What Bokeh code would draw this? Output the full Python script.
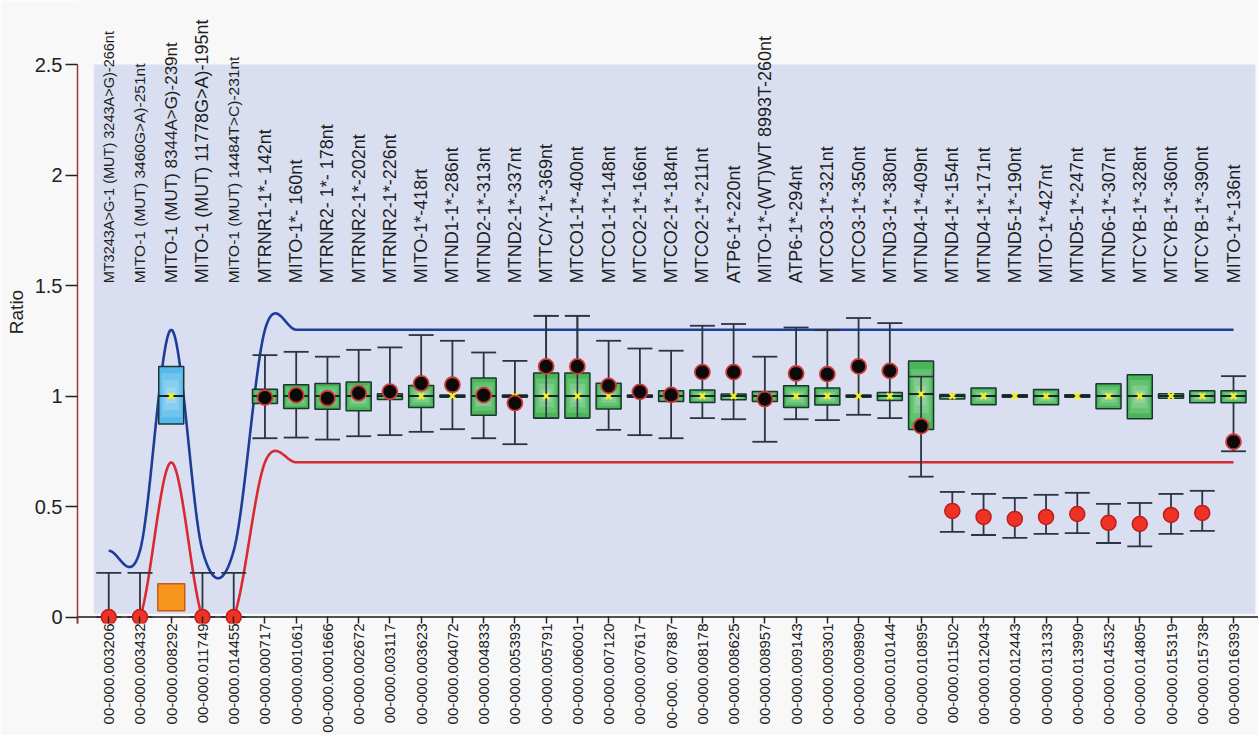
import numpy as np
from bokeh.plotting import figure
from bokeh.models import (ColumnDataSource, BoxAnnotation, Span, FixedTicker,
                          NumeralTickFormatter, Range1d)
from bokeh.core.properties import value, field
from bokeh.embed import file_html
from bokeh.resources import INLINE

# ---------------- data ----------------
probe_names = [
    "MT3243A>G-1 (MUT) 3243A>G)-266nt", "MITO-1 (MUT) 3460G>A)-251nt",
    "MITO-1 (MUT) 8344A>G)-239nt", "MITO-1 (MUT) 11778G>A)-195nt",
    "MITO-1 (MUT) 14484T>C)-231nt", "MTRNR1-1*- 142nt", "MITO-1*- 160nt",
    "MTRNR2- 1*- 178nt", "MTRNR2-1*-202nt", "MTRNR2-1*-226nt", "MITO-1*-418rt",
    "MTND1-1*-286nt", "MTND2-1*-313nt", "MTND2-1*-337nt", "MTTC/Y-1*-369nt",
    "MTCO1-1*-400nt", "MTCO1-1*-148nt", "MTCO2-1*-166nt", "MTCO2-1*-184nt",
    "MTCO2-1*-211nt", "ATP6-1*-220nt", "MITO-1*-(WT)WT 8993T-260nt",
    "ATP6-1*-294nt", "MTCO3-1*-321nt", "MTCO3-1*-350nt", "MTND3-1*-380nt",
    "MTND4-1*-409nt", "MTND4-1*-154nt", "MTND4-1*-171nt", "MTND5-1*-190nt",
    "MITO-1*-427nt", "MTND5-1*-247nt", "MTND6-1*-307nt", "MTCYB-1*-328nt",
    "MTCYB-1*-360nt", "MTCYB-1*-390nt", "MITO-1*-136nt",
]
probe_ids = [
    "00-000.003206", "00-000.003432", "00-000.008292", "00-000.011749",
    "00-000.014455", "00-000.000717", "00-000.001061", "00-000.0001666",
    "00-000.002672", "00-000.003117", "00-000.003623", "00-000.004072",
    "00-000.004833", "00-000.005393", "00-000.005791", "00-000.006001",
    "00-000.007120", "00-000.007617", "00-000. 007887", "00-000.008178",
    "00-000.008625", "00-000.008957", "00-000.009143", "00-000.009301",
    "00-000.009890", "00-000.010144", "00-000.010895", "00-000.011502",
    "00-000.012043", "00-000.012443", "00-000.013133", "00-000.013990",
    "00-000.014532", "00-000.014805", "00-000.015319", "00-000.015738",
    "00-000.016393",
]
box_low = [None, None, 0.873, None, None, 0.966, 0.943, 0.940, 0.933, 0.984,
           0.948, 0.995, 0.913, 0.995, 0.900, 0.900, 0.941, 0.995, 0.975,
           0.971, 0.983, 0.975, 0.948, 0.959, 0.995, 0.980, 0.848, 0.987,
           0.960, 0.994, 0.960, 0.994, 0.942, 0.897, 0.990, 0.970, 0.970]
box_high = [None, None, 1.134, None, None, 1.031, 1.051, 1.057, 1.063, 1.010,
            1.048, 1.005, 1.082, 1.005, 1.104, 1.104, 1.058, 1.005, 1.024,
            1.027, 1.009, 1.020, 1.046, 1.036, 1.005, 1.016, 1.158, 1.007,
            1.036, 1.006, 1.030, 1.006, 1.055, 1.096, 1.010, 1.024, 1.024]
median = [None, None, 1.0, None, None] + [1.0] * 21 + [1.009] + [1.0] * 10
whisker_low = [0, 0, None, 0, 0, 0.809, 0.812, 0.803, 0.818, 0.823, 0.838,
               0.850, 0.809, 0.782, 0.900, 0.900, 0.847, 0.823, 0.809, 0.900,
               0.895, 0.793, 0.895, 0.891, 0.915, 0.900, 0.635, 0.385, 0.371,
               0.358, 0.376, 0.380, 0.335, 0.320, 0.376, 0.390, 0.750]
whisker_high = [0.2, 0.2, None, 0.2, 0.2, 1.185, 1.200, 1.178, 1.209, 1.220,
                1.276, 1.250, 1.197, 1.159, 1.363, 1.363, 1.250, 1.215, 1.205,
                1.318, 1.326, 1.178, 1.310, 1.298, 1.353, 1.330, 1.088, 0.566,
                0.557, 0.539, 0.553, 0.562, 0.512, 0.516, 0.557, 0.571, 1.090]
sample_ratio = [0, 0, None, 0, 0, 0.993, 1.004, 0.990, 1.013, 1.020, 1.057,
                1.051, 1.004, 0.968, 1.134, 1.134, 1.046, 1.019, 1.005, 1.108,
                1.108, 0.986, 1.102, 1.099, 1.134, 1.114, 0.864, 0.480, 0.453,
                0.444, 0.453, 0.466, 0.426, 0.421, 0.462, 0.471, 0.793]
mutant_index = [2]
mutant_ratio = [0.089]
upper_limit = [0.3, 0.3, 1.3, 0.3, 0.3] + [1.3] * 32
lower_limit = [0.0, 0.0, 0.7, 0.0, 0.0] + [0.7] * 32

# ---------------- styles ----------------
FONT = "Liberation Sans"
label_font_px = [14.5, 15.5, 17, 18, 15.5] + [18] * 32
whiskers_on_top = [14, 15, 26]
BOX_W = 0.8
LABEL_BASE = 1.51

n = len(probe_names)
xs = np.arange(n, dtype=float)


def arr(v):
    return np.array([np.nan if a is None else a for a in v], dtype=float)


bl, bh, md = arr(box_low), arr(box_high), arr(median)
wl, wh, sr = arr(whisker_low), arr(whisker_high), arr(sample_ratio)
up, lo = arr(upper_limit), arr(lower_limit)


def smooth_path(vals, start=0, steps=24):
    """Render path of a Catmull-Rom curve passing through the given nodes."""
    v = np.asarray(vals, float)
    tg = np.gradient(v)
    t = np.linspace(0, 1, steps, endpoint=False)
    h00 = 2 * t**3 - 3 * t**2 + 1
    h10 = t**3 - 2 * t**2 + t
    h01 = -2 * t**3 + 3 * t**2
    h11 = t**3 - t**2
    px, py = [], []
    for k in range(start, len(v) - 1):
        px.extend(k + t)
        py.extend(h00 * v[k] + h10 * tg[k] + h01 * v[k + 1] + h11 * tg[k + 1])
    px.append(len(v) - 1)
    py.append(v[-1])
    return px, py


BG = "#f8f8f9"
p = figure(width=1258, height=735, output_backend="svg", toolbar_location=None,
           x_range=Range1d(-1, 36.8), y_range=Range1d(-0.0294, 2.7899),
           min_border_left=77, min_border_right=0, min_border_top=0,
           min_border_bottom=0, background_fill_color=BG,
           border_fill_color=BG, outline_line_color=None)
p.grid.visible = False

# plot area background
p.add_layout(BoxAnnotation(left=-0.48, right=36.7, bottom=0.015, top=2.5,
                           fill_color="#d9dff1", fill_alpha=1, line_alpha=0,
                           level="underlay"))
p.add_layout(Span(location=0, dimension="width", line_color="#1a1a1a",
                  line_width=1.6, level="underlay"))

# threshold curves
ux, uy = smooth_path(up)
p.line(ux, uy, line_color="#1d3d98", line_width=2.6)
lx, ly = smooth_path(lo, start=1)
p.line(lx, ly, line_color="#d82a30", line_width=2.6)

# mask below axis
p.quad(left=[-1], right=[36.8], bottom=[-0.05], top=[-0.004],
       fill_color=BG, line_alpha=0)

# whiskers
wmask = ~np.isnan(wl)
wsrc = ColumnDataSource(dict(x=xs[wmask], lo=wl[wmask], hi=wh[wmask],
                             l=xs[wmask] - BOX_W / 2, r=xs[wmask] + BOX_W / 2))
WC = "#2b3440"
p.segment(x0="x", y0="lo", x1="x", y1="hi", source=wsrc, line_color=WC, line_width=1.8)
p.segment(x0="l", y0="hi", x1="r", y1="hi", source=wsrc, line_color=WC, line_width=1.8)
p.segment(x0="l", y0="lo", x1="r", y1="lo", source=wsrc, line_color=WC, line_width=1.8)

# boxes
bmask = ~np.isnan(bl)
colors = ["#55b9ea" if i in mutant_index else "#48b657" for i in range(n)]
bx = xs[bmask]
bb, bt = bl[bmask], bh[bmask]
bsrc = ColumnDataSource(dict(l=bx - BOX_W / 2, r=bx + BOX_W / 2, b=bb, t=bt,
                             m=md[bmask], x=bx,
                             c=[colors[i] for i in range(n) if bmask[i]]))
p.quad(left="l", right="r", bottom="b", top="t", source=bsrc, fill_color="c",
       line_alpha=0)
# soft inner glow (nested translucent layers)
for f in (0.12, 0.24, 0.36):
    hgt = bt - bb
    p.quad(left=bx - BOX_W / 2 + f * BOX_W * 0.8, right=bx + BOX_W / 2 - f * BOX_W * 0.8,
           bottom=bb + f * hgt, top=bt - f * hgt, fill_color="white",
           fill_alpha=0.16, line_alpha=0)
p.quad(left="l", right="r", bottom="b", top="t", source=bsrc, fill_alpha=0,
       line_color="#1d3530", line_width=1.5)
p.segment(x0="l", y0="m", x1="r", y1="m", source=bsrc, line_color="#16252a", line_width=2)

# whiskers drawn over boxes
tsrc = ColumnDataSource(dict(x=xs[whiskers_on_top],
                             lo=np.maximum(wl[whiskers_on_top], bl[whiskers_on_top]),
                             hi=wh[whiskers_on_top],
                             l=xs[whiskers_on_top] - BOX_W / 2,
                             r=xs[whiskers_on_top] + BOX_W / 2))
p.segment(x0="x", y0="lo", x1="x", y1="hi", source=tsrc, line_color=WC, line_width=1.6)
p.segment(x0="l", y0="hi", x1="r", y1="hi", source=tsrc, line_color=WC, line_width=1.6)

# yellow centre marks
p.scatter(x="x", y="m", source=bsrc, marker="x", size=8, line_color="#f2ee2c", line_width=2.5)

# samples
smask = ~np.isnan(sr)
is_red = smask & (sr <= lo)
is_black = smask & ~is_red
p.scatter(x=xs[is_black], y=sr[is_black], marker="circle", size=15,
          fill_color="#0a0a0a", line_color="#d13a3a", line_width=1.8)
p.scatter(x=xs[is_red], y=sr[is_red], marker="circle", size=15,
          fill_color="#ee3325", line_color="#c01c1c", line_width=1.5)
p.scatter(x=xs[mutant_index], y=mutant_ratio, marker="square", size=27,
          fill_color="#f7941e", line_color="#c85a1a", line_width=1.5)

# top labels
lsrc = ColumnDataSource(dict(x=xs, y=[LABEL_BASE] * n, t=probe_names,
                             fs=[f"{s}px" for s in label_font_px]))
p.text(x="x", y="y", text="t", source=lsrc, angle=np.pi / 2, text_align="left",
       text_baseline="middle", text_font=value(FONT), text_font_size=field("fs"),
       text_color="#1e1e1e")

# axes
xa = p.xaxis[0]
xa.ticker = FixedTicker(ticks=list(range(-1, n)))
ov = {-1: ""}
ov.update({i: probe_ids[i] for i in range(n)})
xa.major_label_overrides = ov
xa.major_label_orientation = np.pi / 2
xa.major_label_text_font = FONT
xa.major_label_text_font_size = "15px"
xa.major_label_text_color = "#222222"
xa.major_label_standoff = 0
xa.axis_line_alpha = 0
xa.major_tick_in = 7
xa.major_tick_out = 0
xa.major_tick_line_color = "#222222"
xa.major_tick_line_width = 1.5
xa.minor_tick_line_color = None

ya = p.yaxis[0]
ya.ticker = FixedTicker(ticks=[0, 0.5, 1, 1.5, 2, 2.5])
ya.formatter = NumeralTickFormatter(format="0.[0]")
ya.bounds = (-0.03, 2.5)
ya.axis_line_color = "#9e3540"
ya.axis_line_width = 1.5
ya.major_tick_out = 12
ya.major_tick_in = 0
ya.major_tick_line_color = "#222222"
ya.major_tick_line_width = 1.5
ya.minor_tick_line_color = None
ya.major_label_text_font = FONT
ya.major_label_text_font_size = "20px"
ya.major_label_text_color = "#222222"
ya.major_label_standoff = 3
ya.axis_label = "Ratio"
ya.axis_label_text_font = FONT
ya.axis_label_text_font_size = "19px"
ya.axis_label_text_font_style = "normal"
ya.axis_label_text_color = "#222222"
ya.axis_label_standoff = 5

open("out.html", "w").write(file_html(p, INLINE))
